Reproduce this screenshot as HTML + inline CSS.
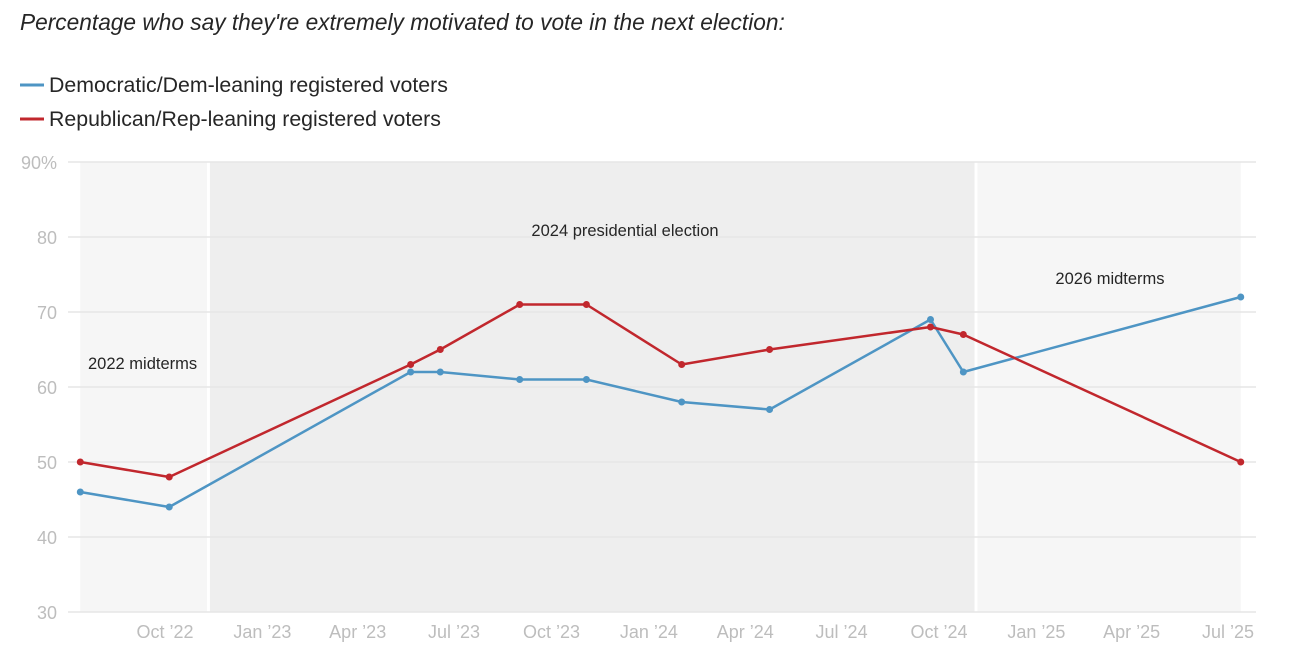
<!DOCTYPE html>
<html><head><meta charset="utf-8"><style>
body{margin:0;background:#fff;font-family:"Liberation Sans",Arial,sans-serif;}
svg text{font-family:"Liberation Sans",Arial,sans-serif;}
</style></head><body>
<svg id="c" width="1303" height="660">
<text x="20" y="30" font-size="22.7" font-style="italic" fill="#262626">Percentage who say they're extremely motivated to vote in the next election:</text>
<g><line x1="20" y1="85" x2="44" y2="85" stroke="#4e95c4" stroke-width="3"/><text x="49" y="92" font-size="21.3" fill="#262626">Democratic/Dem-leaning registered voters</text></g>
<g><line x1="20" y1="119" x2="44" y2="119" stroke="#c1272d" stroke-width="3"/><text x="49" y="126" font-size="21.3" fill="#262626">Republican/Rep-leaning registered voters</text></g>
<g id="bands"></g><g id="grid"></g><g id="lines"></g><g id="ann"></g>
</svg>
<script>
const yTicks=[30,40,50,60,70,80,90];
const xTickLabels=["Oct \u201922","Jan \u201923","Apr \u201923","Jul \u201923","Oct \u201923","Jan \u201924","Apr \u201924","Jul \u201924","Oct \u201924","Jan \u201925","Apr \u201925","Jul \u201925"];
const xTickDates=["2022-10-01","2023-01-01","2023-04-01","2023-07-01","2023-10-01","2024-01-01","2024-04-01","2024-07-01","2024-10-01","2025-01-01","2025-04-01","2025-07-01"];
const pollDates=["2022-07-13","2022-10-05","2023-05-21","2023-06-18","2023-09-01","2023-11-03","2024-02-01","2024-04-24","2024-09-23","2024-10-24","2025-07-13"];
const demValues=[46,44,62,62,61,61,58,57,69,62,72];
const repValues=[50,48,63,65,71,71,63,65,68,67,50];
const bandStarts=["2022-07-13","2022-11-11","2024-11-05"];
const bandEnds=["2022-11-11","2024-11-05","2025-07-13"];
const bandLabels=["2022 midterms","2024 presidential election","2026 midterms"];
const bandLabelVals=[63.1,80.8,74.4];
const NS="http://www.w3.org/2000/svg";
const d0=Date.parse("2022-10-01");
function x(d){return 165+(Date.parse(d)-d0)/864e5*1.0588;}
function y(v){return 612-(v-30)*7.5;}
function mk(tag,attrs,parent){const e=document.createElementNS(NS,tag);for(const k in attrs)e.setAttribute(k,attrs[k]);document.getElementById(parent).appendChild(e);return e;}
bandStarts.forEach((s,i)=>{
 const x0=x(s)+(i?1.5:0), x1=x(bandEnds[i])-(i<2?1.5:0);
 const r=mk('rect',{x:x0,y:y(90),width:x1-x0,height:y(30)-y(90),fill:i==1?'#eeeeee':'#f6f6f6'},'bands');
 
 
});
yTicks.forEach(v=>{
 const l=mk('line',{x1:68,x2:1256,y1:y(v),y2:y(v),stroke:'#e6e6e6','stroke-width':1.5},'grid');
 
 
 const t=mk('text',{x:57,y:y(v)+7,'text-anchor':'end','font-size':18,fill:'#bdbdbd'},'grid');
 t.textContent=v==90?'90%':v;
 
 
});
xTickDates.forEach((d,i)=>{
 const t=mk('text',{x:x(d),y:638,'text-anchor':'middle','font-size':18,fill:'#bdbdbd'},'grid');
 t.textContent=xTickLabels[i];
 
 
});
const labelX=[88,625,1110];
bandLabels.forEach((lab,i)=>{
 const t=mk('text',{x:labelX[i],y:y(bandLabelVals[i])+5,'text-anchor':i==0?'start':'middle','font-size':16.5,fill:'#262626'},'ann');
 t.textContent=lab;
 
 
});
[[demValues,'#4e95c4','dem'],[repValues,'#c1272d','rep']].forEach(([vals,col,nm])=>{
 const pts=vals.map((v,i)=>x(pollDates[i]).toFixed(1)+','+y(v).toFixed(1)).join(' ');
 const p=mk('polyline',{points:pts,fill:'none',stroke:col,'stroke-width':2.5,'stroke-linejoin':'round'},'lines');
 
 
 vals.forEach((v,i)=>{
  const c=mk('circle',{cx:x(pollDates[i]),cy:y(v),r:3.5,fill:col},'lines');
  
  
 });
});
</script>
</body></html>
